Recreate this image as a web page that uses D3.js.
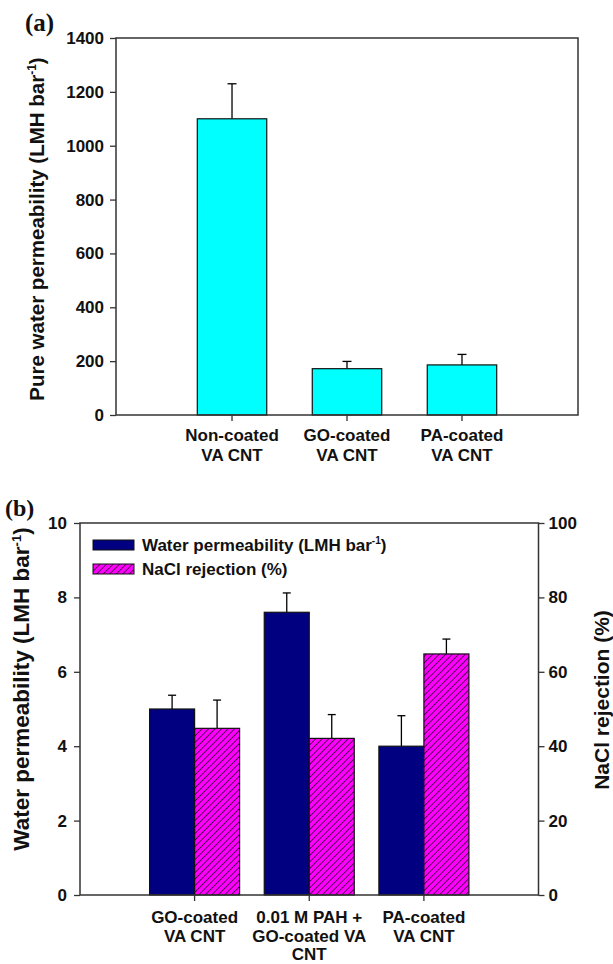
<!DOCTYPE html>
<html><head><meta charset="utf-8">
<script src="https://cdn.jsdelivr.net/npm/d3@7/dist/d3.min.js"></script>
<style>
html,body{margin:0;padding:0;background:#fff;}
svg{display:block;}
text{font-family:"Liberation Sans",Arial,sans-serif;font-weight:bold;fill:#111;}
</style></head>
<body>
<svg id="chart" width="613" height="964"></svg>
<script>
// ---------- DATA ----------
const categoriesA = ["Non-coated|VA CNT", "GO-coated|VA CNT", "PA-coated|VA CNT"];
const permeabilityA = [1100, 172, 186];
const permeabilityAErr = [130, 27, 39];
const ticksA = [0, 200, 400, 600, 800, 1000, 1200, 1400];

const categoriesB = ["GO-coated|VA CNT", "0.01 M PAH +|GO-coated VA|CNT", "PA-coated|VA CNT"];
const waterPermB = [5.0, 7.6, 4.0];
const waterPermBErr = [0.37, 0.52, 0.82];
const naclRejB = [44.8, 42.1, 64.8];
const naclRejBErr = [7.6, 6.4, 4.0];
const ticksBLeft = [0, 2, 4, 6, 8, 10];
const ticksBRight = [0, 20, 40, 60, 80, 100];
const seriesB = ["Water permeability (LMH bar", "NaCl rejection (%)"];

// ---------- SETUP ----------
const svg = d3.select("#chart");
const axisColor = "#333";
const defs = svg.append("defs");
const pat = defs.append("pattern").attr("id", "hatch").attr("patternUnits", "userSpaceOnUse")
  .attr("width", 4.6).attr("height", 4.6).attr("patternTransform", "rotate(45)");
pat.append("rect").attr("width", 4.6).attr("height", 4.6).attr("fill", "#ff00ff");
pat.append("line").attr("x1", 0).attr("y1", 0).attr("x2", 0).attr("y2", 4.6)
  .attr("stroke", "#000").attr("stroke-width", 1.3);

function styleAxis(g) {
  g.selectAll(".domain").remove();
  g.selectAll(".tick line").attr("stroke", axisColor).attr("stroke-width", 1.3);
  g.selectAll(".tick text").style("font-size", "17px").style("font-weight", "bold")
    .style("font-family", "'Liberation Sans',Arial,sans-serif").attr("fill", "#111");
}

function multiline(g, y0, dy) {
  g.selectAll(".tick text").remove();
  g.selectAll(".tick").each(function(d) {
    const lines = d.split("|");
    const t = d3.select(this).append("text").attr("text-anchor", "middle")
      .style("font-size", "17px").attr("fill", "#111");
    lines.forEach((ln, i) => t.append("tspan").attr("x", 0).attr("y", y0 + i * dy).text(ln));
  });
}

function errorBars(g, data, x, y, cap) {
  g.selectAll(null).data(data).join("g").each(function(d) {
    const s = d3.select(this);
    const cx = x(d), yt = y(d.v), ye = y(d.v + d.e);
    s.append("line").attr("x1", cx).attr("x2", cx).attr("y1", yt).attr("y2", ye)
      .attr("stroke", "#000").attr("stroke-width", 1.3);
    s.append("line").attr("x1", cx - cap / 2).attr("x2", cx + cap / 2).attr("y1", ye).attr("y2", ye)
      .attr("stroke", "#000").attr("stroke-width", 1.3);
  });
}

// ---------- PANEL A ----------
const A = {l: 116, r: 578, t: 38, b: 415};
const xA = d3.scaleBand().domain(categoriesA).range([A.l, A.r]).paddingInner(0.396).paddingOuter(0.707);
const yA = d3.scaleLinear().domain([0, 1400]).range([A.b, A.t]);
const gA = svg.append("g");
const dataA = categoriesA.map((c, i) => ({c, v: permeabilityA[i], e: permeabilityAErr[i]}));

errorBars(gA, dataA, d => xA(d.c) + xA.bandwidth() / 2, yA, 9);
gA.selectAll("rect.bar").data(dataA).join("rect").attr("class", "bar")
  .attr("x", d => xA(d.c)).attr("width", xA.bandwidth())
  .attr("y", d => yA(d.v)).attr("height", d => yA(0) - yA(d.v))
  .attr("fill", "#00ffff").attr("stroke", "#111").attr("stroke-width", 1.2);

gA.append("g").attr("transform", `translate(${A.l},0)`)
  .call(d3.axisLeft(yA).tickValues(ticksA).tickSize(6).tickPadding(6).tickFormat(d3.format("d"))).call(styleAxis);
const xAxA = gA.append("g").attr("transform", `translate(0,${A.b})`)
  .call(d3.axisBottom(xA).tickSize(6)).call(styleAxis);
multiline(xAxA, 26, 20);
gA.append("rect").attr("x", A.l).attr("y", A.t).attr("width", A.r - A.l).attr("height", A.b - A.t)
  .attr("fill", "none").attr("stroke", axisColor).attr("stroke-width", 1.5);

const tA = gA.append("text").attr("transform", "translate(44,229) rotate(-90)")
  .attr("text-anchor", "middle").style("font-size", "20.5px");
tA.append("tspan").text("Pure water permeability (LMH bar");
tA.append("tspan").attr("dy", -8).style("font-size", "12px").text("-1");
tA.append("tspan").attr("dy", 8).text(")");

svg.append("text").attr("x", 25).attr("y", 31).style("font-family", "'Liberation Serif','Times New Roman',serif")
  .style("font-size", "25px").style("font-weight", "bold").text("(a)");

// ---------- PANEL B ----------
const B = {l: 80, r: 538.5, t: 523, b: 895};
const xB = d3.scaleBand().domain(categoriesB).range([B.l, B.r]).paddingInner(0.215).paddingOuter(0.607);
const xSub = d3.scaleBand().domain(seriesB).range([0, xB.bandwidth()]);
const yBL = d3.scaleLinear().domain([0, 10]).range([B.b, B.t]);
const yBR = d3.scaleLinear().domain([0, 100]).range([B.b, B.t]);
const gB = svg.append("g");
const dataW = categoriesB.map((c, i) => ({c, v: waterPermB[i], e: waterPermBErr[i]}));
const dataN = categoriesB.map((c, i) => ({c, v: naclRejB[i], e: naclRejBErr[i]}));

errorBars(gB, dataW, d => xB(d.c) + xSub(seriesB[0]) + xSub.bandwidth() / 2, yBL, 8);
errorBars(gB, dataN, d => xB(d.c) + xSub(seriesB[1]) + xSub.bandwidth() / 2, yBR, 8);

gB.selectAll("rect.w").data(dataW).join("rect").attr("class", "w")
  .attr("x", d => xB(d.c) + xSub(seriesB[0])).attr("width", xSub.bandwidth())
  .attr("y", d => yBL(d.v)).attr("height", d => yBL(0) - yBL(d.v))
  .attr("fill", "#000080").attr("stroke", "#111").attr("stroke-width", 1.2);
gB.selectAll("rect.n").data(dataN).join("rect").attr("class", "n")
  .attr("x", d => xB(d.c) + xSub(seriesB[1])).attr("width", xSub.bandwidth())
  .attr("y", d => yBR(d.v)).attr("height", d => yBR(0) - yBR(d.v))
  .attr("fill", "url(#hatch)").attr("stroke", "#111").attr("stroke-width", 1.2);

gB.append("g").attr("transform", `translate(${B.l},0)`)
  .call(d3.axisLeft(yBL).tickValues(ticksBLeft).tickSize(6).tickPadding(7).tickFormat(d3.format("d"))).call(styleAxis);
gB.append("g").attr("transform", `translate(${B.r},0)`)
  .call(d3.axisRight(yBR).tickValues(ticksBRight).tickSize(6).tickPadding(4).tickFormat(d3.format("d"))).call(styleAxis);
const xAxB = gB.append("g").attr("transform", `translate(0,${B.b})`)
  .call(d3.axisBottom(xB).tickSize(6)).call(styleAxis);
multiline(xAxB, 28, 18.5);
gB.append("rect").attr("x", B.l).attr("y", B.t).attr("width", B.r - B.l).attr("height", B.b - B.t)
  .attr("fill", "none").attr("stroke", axisColor).attr("stroke-width", 1.5);

// legend
const leg = gB.append("g");
const legFills = ["#000080", "url(#hatch)"];
[0, 1].forEach(i => {
  const cy = 545 + i * 24;
  leg.append("rect").attr("x", 93).attr("y", cy - 5).attr("width", 41).attr("height", 10)
    .attr("fill", legFills[i]).attr("stroke", "#111").attr("stroke-width", 1);
  const t = leg.append("text").attr("x", 142).attr("y", cy + 6).style("font-size", "17px");
  t.append("tspan").text(seriesB[i]);
  if (i === 0) {
    t.append("tspan").attr("dy", -7).style("font-size", "10px").text("-1");
    t.append("tspan").attr("dy", 7).text(")");
  }
});

const tBL = gB.append("text").attr("transform", "translate(29,689) rotate(-90)")
  .attr("text-anchor", "middle").style("font-size", "22.5px");
tBL.append("tspan").text("Water permeability (LMH bar");
tBL.append("tspan").attr("dy", -8).style("font-size", "13px").text("-1");
tBL.append("tspan").attr("dy", 8).text(")");

gB.append("text").attr("transform", "translate(609,700) rotate(-90)")
  .attr("text-anchor", "middle").style("font-size", "21px").text("NaCl rejection (%)");

svg.append("text").attr("x", 5).attr("y", 516).style("font-family", "'Liberation Serif','Times New Roman',serif")
  .style("font-size", "24px").style("font-weight", "bold").text("(b)");
</script>
</body></html>
